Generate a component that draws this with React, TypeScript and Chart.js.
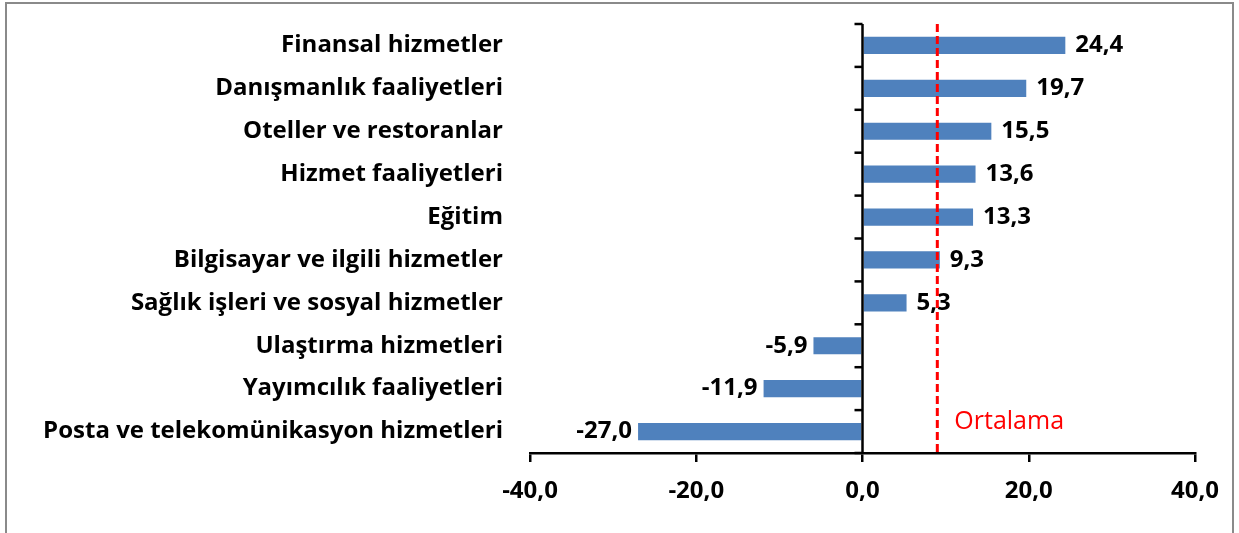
import React, { useEffect, useRef } from "react";
import { Chart, registerables } from "chart.js";

Chart.register(...registerables);

const categories = [
  "Finansal hizmetler",
  "Danışmanlık faaliyetleri",
  "Oteller ve restoranlar",
  "Hizmet faaliyetleri",
  "Eğitim",
  "Bilgisayar ve ilgili hizmetler",
  "Sağlık işleri ve sosyal hizmetler",
  "Ulaştırma hizmetleri",
  "Yayımcılık faaliyetleri",
  "Posta ve telekomünikasyon hizmetleri",
];
const values = [24.4, 19.7, 15.5, 13.6, 13.3, 9.3, 5.3, -5.9, -11.9, -27.0];
const averageValue = 9.0;
const averageLabel = "Ortalama";
const xTicks = [-40, -20, 0, 20, 40];

const FONT = "'Open Sans', sans-serif";
const fmt = (v: number) => v.toFixed(1).replace(".", ",");

const overlayPlugin = {
  id: "overlay",
  afterDatasetsDraw(chart: any) {
    const { ctx, chartArea, scales } = chart;
    const xs = scales.x;
    const ys = scales.y;
    const x0 = xs.getPixelForValue(0);
    ctx.save();
    // category axis at zero
    ctx.strokeStyle = "#000";
    ctx.lineWidth = 2.5;
    ctx.beginPath();
    ctx.moveTo(x0, chartArea.top);
    ctx.lineTo(x0, chartArea.bottom);
    ctx.stroke();
    const n = categories.length;
    const step = (chartArea.bottom - chartArea.top) / n;
    for (let i = 0; i <= n; i++) {
      const y = chartArea.top + i * step;
      ctx.beginPath();
      ctx.moveTo(x0 - 8, y);
      ctx.lineTo(x0, y);
      ctx.stroke();
    }
    // value labels
    ctx.fillStyle = "#000";
    ctx.font = `bold 24px ${FONT}`;
    ctx.textBaseline = "middle";
    const meta = chart.getDatasetMeta(0);
    meta.data.forEach((bar: any, i: number) => {
      const v = values[i];
      if (v >= 0) {
        ctx.textAlign = "left";
        ctx.fillText(fmt(v), bar.x + 10, bar.y);
      } else {
        ctx.textAlign = "right";
        ctx.fillText(fmt(v), bar.x - 6, bar.y);
      }
    });
    // average line
    const xa = xs.getPixelForValue(averageValue);
    ctx.strokeStyle = "#ff0000";
    ctx.lineWidth = 3;
    ctx.setLineDash([8, 4]);
    ctx.beginPath();
    ctx.moveTo(xa, chartArea.top);
    ctx.lineTo(xa, chartArea.bottom);
    ctx.stroke();
    ctx.setLineDash([]);
    ctx.fillStyle = "#ff0000";
    ctx.font = `25px ${FONT}`;
    ctx.textAlign = "left";
    ctx.fillText(averageLabel, xa + 17, ys.getPixelForValue(n - 1) - 10);
    ctx.restore();
  },
};

export default function App() {
  const ref = useRef<HTMLCanvasElement>(null);
  useEffect(() => {
    if (!ref.current) return;
    const chart = new Chart(ref.current, {
      type: "bar",
      data: {
        labels: categories,
        datasets: [
          {
            data: values,
            backgroundColor: "#4F81BD",
            barPercentage: 0.4,
            categoryPercentage: 1,
          },
        ],
      },
      options: {
        indexAxis: "y",
        animation: false,
        responsive: true,
        maintainAspectRatio: false,
        layout: { padding: { top: 24, right: 44, left: 0, bottom: 0 } },
        plugins: { legend: { display: false }, tooltip: { enabled: false } },
        scales: {
          x: {
            min: -40,
            max: 40,
            afterBuildTicks: (s: any) => {
              s.ticks = xTicks.map((v) => ({ value: v }));
            },
            afterFit: (s: any) => {
              s.height = 80;
              s.paddingLeft = 0;
              s.paddingRight = 0;
            },
            ticks: {
              color: "#000",
              font: { family: FONT, size: 24, weight: "bold" },
              padding: 15,
              callback: (v: any) => fmt(Number(v)),
            },
            grid: {
              drawOnChartArea: false,
              drawTicks: true,
              tickLength: 9,
              color: "#000",
              lineWidth: 2.5,
            },
            border: { display: true, color: "#000", width: 2.5 },
          },
          y: {
            afterFit: (s: any) => {
              s.width = 530;
              s.paddingTop = 0;
              s.paddingBottom = 0;
            },
            ticks: {
              color: "#000",
              font: { family: FONT, size: 24, weight: "bold" },
              padding: 27,
            },
            grid: { display: false, drawTicks: false },
            border: { display: false },
          },
        },
      },
      plugins: [overlayPlugin],
    });
    return () => chart.destroy();
  }, []);
  return (
    <div
      style={{
        position: "fixed",
        left: 0,
        top: 0,
        width: 1239,
        height: 533,
        background: "#fff",
        overflow: "hidden",
      }}
    >
      <div
        style={{
          position: "absolute",
          left: 5,
          top: 2,
          width: 1229,
          height: 560,
          border: "2px solid #8a8a8a",
          boxSizing: "border-box",
        }}
      />
      <canvas ref={ref} style={{ position: "absolute", left: 0, top: 0 }} />
    </div>
  );
}
